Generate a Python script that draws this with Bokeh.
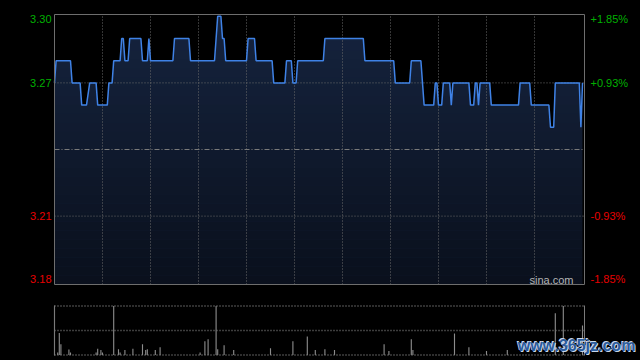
from bokeh.plotting import figure
from bokeh.models import Range1d, Label
from bokeh.layouts import column
from bokeh.embed import file_html
from bokeh.resources import INLINE

# ---------------- data ----------------
PREV_CLOSE = 3.24

minutes = [0, 1, 10, 11, 16, 17, 20, 22, 26, 27,
           33, 34, 36, 37, 41, 42, 43, 44, 46, 47,
           54, 55, 58, 59, 60, 74, 75, 84, 85, 100,
           102, 104, 105, 106, 107, 120, 121, 125, 126, 136,
           137, 144, 145, 148, 149, 151, 152, 168, 169, 193,
           194, 212, 213, 222, 223, 229, 231, 237, 238, 239,
           240, 242, 243, 247, 248, 249, 259, 260, 262, 263,
           264, 265, 266, 272, 273, 290, 291, 297, 298, 309,
           310, 312, 313, 328, 329, 330]
prices = [3.27, 3.28, 3.28, 3.27, 3.27, 3.26, 3.26, 3.27, 3.27, 3.26,
          3.26, 3.27, 3.27, 3.28, 3.28, 3.29, 3.29, 3.28, 3.28, 3.29,
          3.29, 3.28, 3.28, 3.29, 3.28, 3.28, 3.29, 3.29, 3.28, 3.28,
          3.30, 3.30, 3.29, 3.29, 3.28, 3.28, 3.29, 3.29, 3.28, 3.28,
          3.27, 3.27, 3.28, 3.28, 3.27, 3.27, 3.28, 3.28, 3.29, 3.29,
          3.28, 3.28, 3.27, 3.27, 3.28, 3.28, 3.26, 3.26, 3.27, 3.27,
          3.26, 3.26, 3.27, 3.27, 3.26, 3.27, 3.27, 3.26, 3.26, 3.27,
          3.27, 3.26, 3.27, 3.27, 3.26, 3.26, 3.27, 3.27, 3.26, 3.26,
          3.25, 3.25, 3.27, 3.27, 3.25, 3.27]

price_ticks = [3.30, 3.27, 3.21, 3.18]
price_tick_labels = ["3.30", "3.27", "3.21", "3.18"]
pct_tick_labels = ["+1.85%", "+0.93%", "-0.93%", "-1.85%"]
time_grid = [30, 60, 90, 120, 150, 180, 210, 240, 270, 300]

vol_minutes = [0, 2, 3, 4, 9, 10, 26, 27, 29, 30,
               37, 40, 41, 44, 49, 55, 57, 58, 63, 66,
               91, 94, 96, 101, 102, 106, 112, 135, 149, 158,
               163, 169, 175, 206, 209, 223, 224, 250, 259, 270,
               283, 313, 318, 330]
vol_values = [99, 5, 45, 22, 11, 5, 5, 13, 10, 5,
              100, 12, 5, 10, 13, 22, 10, 12, 10, 16,
              5, 28, 32, 100, 12, 20, 10, 14, 28, 38,
              10, 12, 10, 22, 8, 32, 10, 44, 16, 8,
              10, 85, 100, 60]

# ---------------- geometry / styling ----------------
PX_PER_MIN = 1.6
X_END = 331.25                 # 530 px plot area
Y_LO, Y_HI = 3.1792, 3.3008    # 270 px plot area
K = (Y_HI - Y_LO) / 270.0      # price units per pixel
GREEN = "#00b000"
RED = "#e80000"
GRID = "#6a6a6a"
FONT = "Liberation Sans"

x_full = Range1d(-54 / PX_PER_MIN, (640 - 54) / PX_PER_MIN)

main = figure(width=640, height=295, x_range=x_full,
              y_range=Range1d(Y_LO - 11 * K, Y_HI + 14 * K),
              x_axis_type=None, y_axis_type=None,
              output_backend="svg", toolbar_location=None, min_border=0,
              background_fill_color="black", border_fill_color="black",
              outline_line_color=None)
main.grid.visible = False

main.varea(x=minutes, y1=Y_LO, y2=prices, fill_color="#16243f")
N = 30
step = (Y_HI - Y_LO) / N
for i in range(N):
    top = Y_HI - i * step
    main.quad(left=0, right=X_END, top=top, bottom=top - step,
              fill_color="black", fill_alpha=0.55 * (i + 0.5) / N, line_color=None)

main.segment(x0=time_grid, x1=time_grid, y0=Y_LO, y1=Y_HI,
             line_color=GRID, line_dash="1 2", line_width=1)
main.segment(x0=0, x1=X_END, y0=[3.27, 3.21], y1=[3.27, 3.21],
             line_color=GRID, line_dash="1 2", line_width=1)
main.segment(x0=0, x1=X_END, y0=PREV_CLOSE, y1=PREV_CLOSE,
             line_color="#7a7a7a", line_dash="5 2 1 2", line_width=1)

main.line(x=minutes, y=prices, line_color="#3f82e6", line_width=1.5)

main.quad(left=0, right=X_END, bottom=Y_LO, top=Y_HI, fill_color=None,
          line_color="#6e6e6e", line_width=1)

nudges = [-3, 0, 0, 4]
for v, lab, pct, nd in zip(price_ticks, price_tick_labels, pct_tick_labels, nudges):
    col = GREEN if v > PREV_CLOSE else RED
    main.add_layout(Label(x=0, y=v, x_offset=-3, y_offset=nd, text=lab,
                          text_align="right", text_baseline="middle",
                          text_color=col, text_font=FONT, text_font_size="11px"))
    main.add_layout(Label(x=X_END, y=v, x_offset=6, y_offset=nd, text=pct,
                          text_align="left", text_baseline="middle",
                          text_color=col, text_font=FONT, text_font_size="11px"))

main.add_layout(Label(x=X_END, y=Y_LO, x_offset=-11, y_offset=5, text="sina.com",
                      text_align="right", text_baseline="middle", text_color="#b4b4b4",
                      text_font=FONT, text_font_size="11px"))

# ---------------- volume panel ----------------
V_LO, V_HI = -1.0, 101.0
VK = (V_HI - V_LO) / 50.0
vol = figure(width=640, height=65, x_range=x_full,
             y_range=Range1d(V_LO - 5 * VK, V_HI + 10 * VK),
             x_axis_type=None, y_axis_type=None,
             output_backend="svg", toolbar_location=None, min_border=0,
             background_fill_color="black", border_fill_color="black",
             outline_line_color=None)
vol.grid.visible = False
vol.vbar(x=vol_minutes, top=vol_values, bottom=0, width=0.7,
         fill_color="#8c8c8c", line_color=None)
vol.segment(x0=0, x1=X_END, y0=[100, 50, 0], y1=[100, 50, 0],
            line_color="#7a7a7a", line_dash="1 2", line_width=1.5)
vol.segment(x0=[0, X_END], x1=[0, X_END], y0=V_LO, y1=V_HI,
            line_color="#7a7a7a", line_width=1)

for dx, dy, c in ((-1, 1, "#c9d7ea"), (1, -1, "#c9d7ea"), (0, 0, "#2b5c9e")):
    vol.add_layout(Label(x=289.5, y=20, x_offset=dx, y_offset=dy,
                         text="www.365jz.com", text_align="left",
                         text_baseline="middle", text_color=c,
                         text_font=FONT, text_font_style="bold",
                         text_font_size="16px"))

layout = column(main, vol, spacing=0, styles={"background-color": "black"})
open("out.html", "w").write(file_html(layout, INLINE))
